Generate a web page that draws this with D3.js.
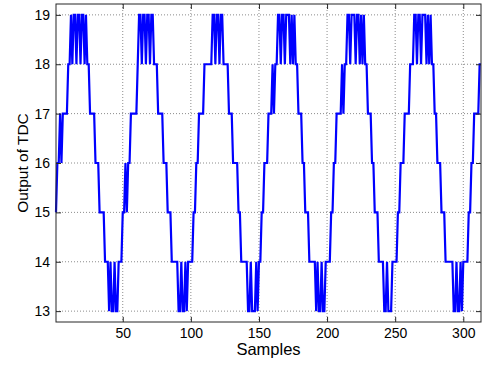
<!DOCTYPE html>
<html>
<head>
<meta charset="utf-8">
<script src="https://cdn.jsdelivr.net/npm/d3@7/dist/d3.min.js"></script>
<style>
  body { margin: 0; background: #fff; }
  .axis text { font-family: "Liberation Sans", Arial, sans-serif; font-size: 14px; fill: #000; }
  .axis path, .axis line { stroke: #262626; }
</style>
</head>
<body>
<div id="chart"></div>
<script>
// TDC output, one array per cycle (sample index starts at 1)
const cycle1 = [15,16,16,17,16,17,17,17,17,18, 18,19,18,19,19,18,19,19,18,19,19,18,19, 18,18,
  17,17,17,17, 16,16,16, 15,15,15,15, 14,14,14, 13,14,13,13,14,13,13,14,14,14,
  15,15,16,15,16,16, 17,17,17,17,17, 18];
const cycle2 = [19,19,18,19,19,18,19,19,18,19,19, 18,18,18, 17,17,17,17, 16,16,16, 15,15,15,
  14,14,14,14,14, 13,13,14,13,13,14,13,14,14,14,14, 15,15, 16,16, 17,17,17,17, 18,18,18,18,18,18];
const cycle3 = [19,19,18,19,19,18,19,19, 18,18,18,18, 17,17,17, 16,16,16,16, 15,15,
  14,14,14,14,14, 13,13,14,13,13,13,14,13,14,14, 15,15, 16,16,16, 17,17,17, 18,17,18,18];
const cycle4 = [19,19,18,19,19,18,19,19,19,18,19,18,19,18, 18, 17,17,17, 16,16, 15,15,15,
  14,14,14,14,14, 13,14,13,13,14,13,13,14,14,14,14, 15,15, 16,16, 17,17,17,17, 18,17,18,18];
const cycle5 = [19,19,18,19,19,19,18,19,19,18,19,18,19,18, 18, 17,17,17, 16,16, 15,15,15,
  14,14,14,14, 13,13,14,13,13,13,14,14,14,14, 15,15, 16,16,16, 17,17,17,17, 18,18,18];
const cycle6 = [19,19,18,19,19,18,19,19,19,18,19,18,19,18, 18, 17,17, 16,16,16, 15,15,15,
  14,14,14,14,14,14, 13,13,14,13,13,14,13,14,14,14,14, 15,15, 16,16, 17,17,17,17, 18,18];

const xTicks = [50, 100, 150, 200, 250, 300];
const yTicks = [13, 14, 15, 16, 17, 18, 19];
const xLabel = 'Samples';
const yLabel = 'Output of TDC';

const samples = [].concat(cycle1, cycle2, cycle3, cycle4, cycle5, cycle6);
const data = samples.map((v, i) => [i + 1, v]);

const W = 482, H = 365;
const margin = { top: 4, right: 1, bottom: 43, left: 56 };
const width = W - margin.left - margin.right;
const height = H - margin.top - margin.bottom;

const svg = d3.select('#chart').append('svg')
  .attr('width', W)
  .attr('height', H);

const g = svg.append('g')
  .attr('transform', `translate(${margin.left},${margin.top})`);

const x = d3.scaleLinear().domain([1, data.length]).range([0, width]);
const y = d3.scaleLinear().domain([12.78, 19.22]).range([height, 0]);

// dotted grid
g.append('g').selectAll('line').data(xTicks).join('line')
  .attr('x1', d => x(d)).attr('x2', d => x(d))
  .attr('y1', 0).attr('y2', height)
  .attr('stroke', '#8c8c8c').attr('stroke-dasharray', '1,2');
g.append('g').selectAll('line').data(yTicks).join('line')
  .attr('x1', 0).attr('x2', width)
  .attr('y1', d => y(d)).attr('y2', d => y(d))
  .attr('stroke', '#8c8c8c').attr('stroke-dasharray', '1,2');

// signal
g.append('path')
  .datum(data)
  .attr('fill', 'none')
  .attr('stroke', '#0000ff')
  .attr('stroke-width', 2.2)
  .attr('stroke-linejoin', 'miter')
  .attr('d', d3.line().x(d => x(d[0])).y(d => y(d[1])));

// axes, MATLAB style with inward ticks on all four sides
const tk = 5;
g.append('g').attr('class', 'axis')
  .attr('transform', `translate(0,${height})`)
  .call(d3.axisBottom(x).tickValues(xTicks).tickSizeInner(-tk).tickSizeOuter(0).tickPadding(6))
  .call(a => a.select('.domain').remove());
g.append('g').attr('class', 'axis')
  .call(d3.axisTop(x).tickValues(xTicks).tickSizeInner(-tk).tickSizeOuter(0).tickFormat(''))
  .call(a => a.select('.domain').remove());
g.append('g').attr('class', 'axis')
  .call(d3.axisLeft(y).tickValues(yTicks).tickSizeInner(-tk).tickSizeOuter(0).tickPadding(6).tickFormat(d3.format('d')))
  .call(a => a.select('.domain').remove());
g.append('g').attr('class', 'axis')
  .attr('transform', `translate(${width},0)`)
  .call(d3.axisRight(y).tickValues(yTicks).tickSizeInner(-tk).tickSizeOuter(0).tickFormat(''))
  .call(a => a.select('.domain').remove());

g.append('rect')
  .attr('width', width).attr('height', height)
  .attr('fill', 'none').attr('stroke', '#262626');

svg.append('text')
  .attr('x', margin.left + width / 2).attr('y', 355)
  .attr('text-anchor', 'middle')
  .style('font-family', '"Liberation Sans", Arial, sans-serif').style('font-size', '16.5px')
  .text(xLabel);

svg.append('text')
  .attr('transform', `translate(28,${margin.top + height / 2}) rotate(-90)`)
  .attr('text-anchor', 'middle')
  .style('font-family', '"Liberation Sans", Arial, sans-serif').style('font-size', '15.5px')
  .text(yLabel);
</script>
</body>
</html>
